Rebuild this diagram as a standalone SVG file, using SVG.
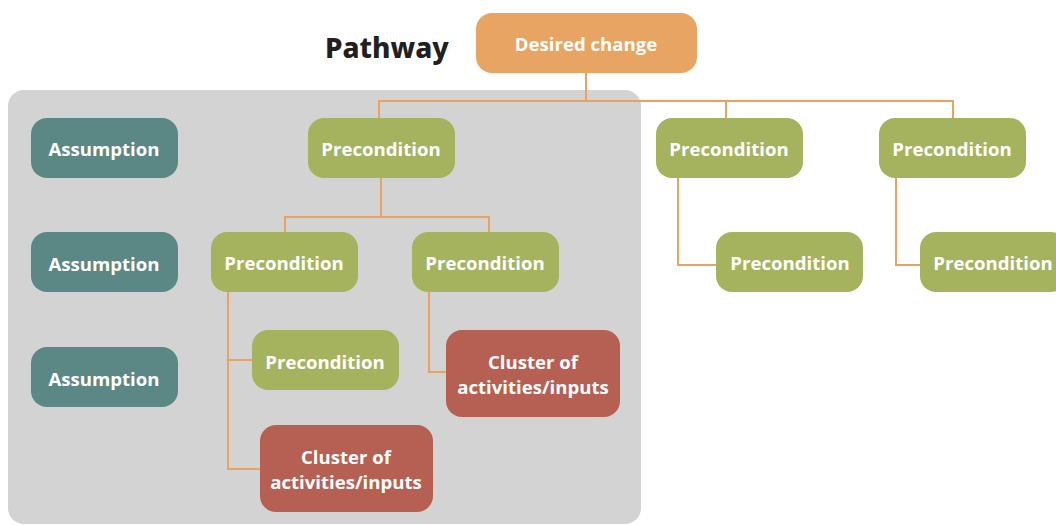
<svg xmlns="http://www.w3.org/2000/svg" width="1056" height="525" viewBox="0 0 1056 525">
<style>
.n{stroke:none}
.dc{fill:#E8A462}
.pc{fill:#A5B35E}
.as{fill:#5B8884}
.cl{fill:#B56052}
.t{font-family:"Open Sans","Noto Sans","Liberation Sans",sans-serif;font-weight:700;font-size:18.6px;fill:#ffffff;text-anchor:middle}
.c{fill:none;stroke:#E9A260;stroke-width:2}
.title{font-family:"Noto Sans","DejaVu Sans",sans-serif;font-weight:800;font-size:28px;fill:#231F20}
</style>
<rect id="panel" x="8" y="90" width="633" height="434" rx="16" fill="#D3D3D3"/>
<text class="title" x="325" y="58">Pathway</text>
<g id="connectors">
<path class="c" d="M586 73V101M379 118V101H953V118M726 101V118"/>
<path class="c" d="M381 178V217M285 232V217H489V232"/>
<path class="c" d="M228 292V469H260M228 360H252"/>
<path class="c" d="M429 292V372H446"/>
<path class="c" d="M678 178V265H717"/>
<path class="c" d="M896 178V265H920"/>
</g>
<g id="desired"><rect class="dc" x="476" y="13" width="221" height="60" rx="16"/><text class="t" x="586" y="51">Desired change</text></g>
<g id="as1"><rect class="as" x="31" y="118" width="147" height="60" rx="16"/><text class="t" x="104" y="156">Assumption</text></g>
<g id="as2"><rect class="as" x="31" y="232" width="147" height="60" rx="16"/><text class="t" x="104" y="271">Assumption</text></g>
<g id="as3"><rect class="as" x="31" y="347" width="147" height="60" rx="16"/><text class="t" x="104" y="386">Assumption</text></g>
<g id="p1"><rect class="pc" x="308" y="118" width="147" height="60" rx="16"/><text class="t" x="381" y="156">Precondition</text></g>
<g id="p2"><rect class="pc" x="211" y="232" width="147" height="60" rx="16"/><text class="t" x="284" y="270">Precondition</text></g>
<g id="p3"><rect class="pc" x="412" y="232" width="147" height="60" rx="16"/><text class="t" x="485" y="270">Precondition</text></g>
<g id="p4"><rect class="pc" x="252" y="330" width="147" height="60" rx="16"/><text class="t" x="325" y="369">Precondition</text></g>
<g id="cl1"><rect class="cl" x="446" y="330" width="174" height="87" rx="16"/><text class="t" x="533" y="369">Cluster of</text><text class="t" x="533" y="394">activities/inputs</text></g>
<g id="cl2"><rect class="cl" x="260" y="425" width="173" height="87" rx="16"/><text class="t" x="346" y="464">Cluster of</text><text class="t" x="346" y="489">activities/inputs</text></g>
<g id="p5"><rect class="pc" x="656" y="118" width="147" height="60" rx="16"/><text class="t" x="729" y="156">Precondition</text></g>
<g id="p6"><rect class="pc" x="879" y="118" width="147" height="60" rx="16"/><text class="t" x="952" y="156">Precondition</text></g>
<g id="p7"><rect class="pc" x="716" y="232" width="147" height="60" rx="16"/><text class="t" x="790" y="270">Precondition</text></g>
<g id="p8"><rect class="pc" x="920" y="232" width="147" height="60" rx="16"/><text class="t" x="993" y="270">Precondition</text></g>
</svg>
